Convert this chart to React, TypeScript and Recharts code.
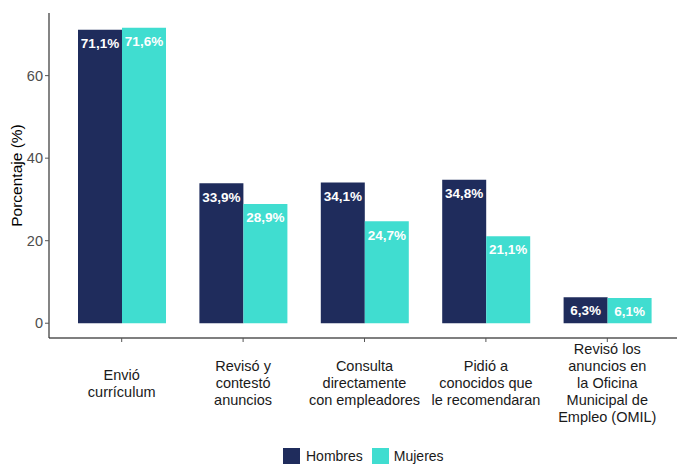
import React from 'react';
import { BarChart, Bar, XAxis, YAxis, LabelList } from 'recharts';

const categories = [
  'Envió\ncurrículum',
  'Revisó y\ncontestó\nanuncios',
  'Consulta\ndirectamente\ncon empleadores',
  'Pidió a\nconocidos que\nle recomendaran',
  'Revisó los\nanuncios en\nla Oficina\nMunicipal de\nEmpleo (OMIL)',
];
const hombres = [71.1, 33.9, 34.1, 34.8, 6.3];
const mujeres = [71.6, 28.9, 24.7, 21.1, 6.1];
const yTicks = [0, 20, 40, 60];

const NAVY = '#1F2C5C';
const TURQ = '#40DDD0';
const FONT = '"Liberation Sans", Arial, sans-serif';

const data = categories.map((c, i) => ({ cat: c, hombres: hombres[i], mujeres: mujeres[i] }));

const fmt = (v: number) => v.toFixed(1).replace('.', ',') + '%';

// multi-line category labels, centred vertically under the axis
const CategoryTick = ({ x, y, payload }: any) => {
  const lines = String(payload.value).split('\n');
  const lh = 17;
  const center = y + 39;
  const start = center - ((lines.length - 1) * lh) / 2;
  return (
    <text x={x} textAnchor="middle" fill="#1a1a1a" fontSize={14.5} fontFamily={FONT}>
      {lines.map((l, i) => (
        <tspan key={i} x={x} y={start + i * lh} dy="0.35em">{l}</tspan>
      ))}
    </text>
  );
};

const BarValue = ({ x, y, width, value }: any) => (
  <text
    x={x + width / 2}
    y={y + 13.5}
    dy="0.35em"
    textAnchor="middle"
    fill="#ffffff"
    fontWeight="bold"
    fontSize={13.5}
    fontFamily={FONT}
  >
    {fmt(value)}
  </text>
);

const YLabel = ({ viewBox }: any) => {
  const cx = viewBox.x + 17;
  const cy = viewBox.y + viewBox.height / 2;
  return (
    <text
      x={cx}
      y={cy}
      transform={`rotate(-90, ${cx}, ${cy})`}
      textAnchor="middle"
      dy="0.35em"
      fill="#000"
      fontSize={15.5}
      fontFamily={FONT}
    >
      Porcentaje (%)
    </text>
  );
};

const LegendBox = () => (
  <div
    style={{
      position: 'absolute',
      top: 448,
      left: 283,
      display: 'flex',
      alignItems: 'center',
      fontFamily: FONT,
      fontSize: 14,
      lineHeight: '17px',
      color: '#1a1a1a',
    }}
  >
    <span style={{ width: 17, height: 17, background: NAVY, display: 'inline-block', marginRight: 6 }} />
    <span style={{ marginRight: 9 }}>Hombres</span>
    <span style={{ width: 17, height: 17, background: TURQ, display: 'inline-block', marginRight: 5 }} />
    <span>Mujeres</span>
  </div>
);

export default function App() {
  return (
    <div style={{ position: 'absolute', left: 0, top: 0, width: 677, height: 464, overflow: 'hidden', background: '#fff' }}>
      <BarChart
        width={680}
        height={464}
        data={data}
        margin={{ top: 13, right: 0, left: 0, bottom: 0 }}
        barSize={44}
        barGap={0}
      >
        <XAxis
          dataKey="cat"
          interval={0}
          height={126}
          padding={{ left: 12, right: 12 }}
          axisLine={{ stroke: '#000', strokeWidth: 1.2 }}
          tickLine={{ stroke: '#555' }}
          tickSize={4}
          tick={<CategoryTick />}
        />
        <YAxis
          type="number"
          domain={[-3.58, 75.18]}
          ticks={yTicks}
          width={49}
          allowDataOverflow
          axisLine={{ stroke: '#333', strokeWidth: 1.2 }}
          tickLine={{ stroke: '#555' }}
          tickSize={4}
          tickMargin={2}
          tick={{ fill: '#4d4d4d', fontSize: 14.5, fontFamily: FONT }}
          label={<YLabel />}
        />
        <Bar dataKey="hombres" fill={NAVY} isAnimationActive={false}>
          <LabelList dataKey="hombres" content={<BarValue />} />
        </Bar>
        <Bar dataKey="mujeres" fill={TURQ} isAnimationActive={false}>
          <LabelList dataKey="mujeres" content={<BarValue />} />
        </Bar>
      </BarChart>
      <LegendBox />
    </div>
  );
}
